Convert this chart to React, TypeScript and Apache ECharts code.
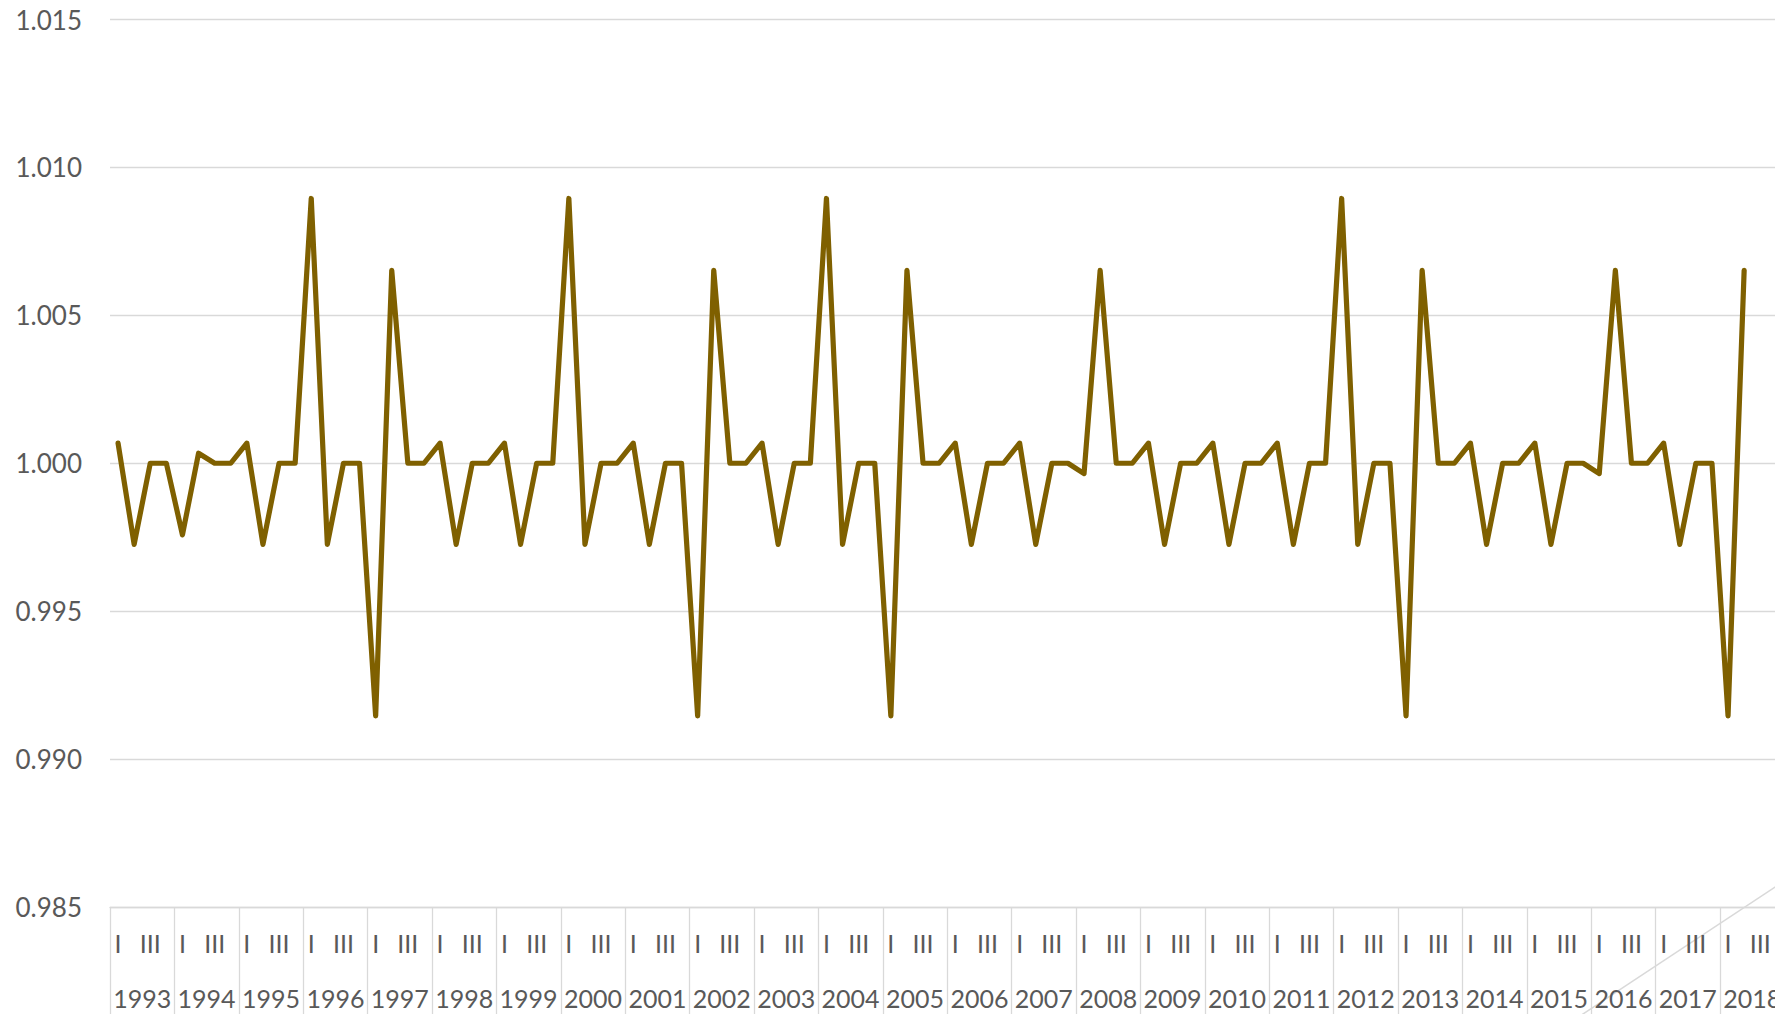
import React, { useEffect, useRef } from "react";
import * as echarts from "echarts";

const years: string[] = [
  "1993", "1994", "1995", "1996", "1997", "1998", "1999", "2000", "2001",
  "2002", "2003", "2004", "2005", "2006", "2007", "2008", "2009", "2010",
  "2011", "2012", "2013", "2014", "2015", "2016", "2017", "2018",
];

const quarterNames: string[] = ["I", "II", "III", "IV"];

// 1993 Q1 .. 2018 Q2
const values: number[] = [
  1.00068, 0.99726, 1.0, 1.0, // 1993
  0.99758, 1.00034, 1.0, 1.0, // 1994
  1.00068, 0.99726, 1.0, 1.0, // 1995
  1.00895, 0.99726, 1.0, 1.0, // 1996
  0.99146, 1.00652, 1.0, 1.0, // 1997
  1.00068, 0.99726, 1.0, 1.0, // 1998
  1.00068, 0.99726, 1.0, 1.0, // 1999
  1.00895, 0.99726, 1.0, 1.0, // 2000
  1.00068, 0.99726, 1.0, 1.0, // 2001
  0.99146, 1.00652, 1.0, 1.0, // 2002
  1.00068, 0.99726, 1.0, 1.0, // 2003
  1.00895, 0.99726, 1.0, 1.0, // 2004
  0.99146, 1.00652, 1.0, 1.0, // 2005
  1.00068, 0.99726, 1.0, 1.0, // 2006
  1.00068, 0.99726, 1.0, 1.0, // 2007
  0.99965, 1.00652, 1.0, 1.0, // 2008
  1.00068, 0.99726, 1.0, 1.0, // 2009
  1.00068, 0.99726, 1.0, 1.0, // 2010
  1.00068, 0.99726, 1.0, 1.0, // 2011
  1.00895, 0.99726, 1.0, 1.0, // 2012
  0.99146, 1.00652, 1.0, 1.0, // 2013
  1.00068, 0.99726, 1.0, 1.0, // 2014
  1.00068, 0.99726, 1.0, 1.0, // 2015
  0.99965, 1.00652, 1.0, 1.0, // 2016
  1.00068, 0.99726, 1.0, 1.0, // 2017
  0.99146, 1.00652, // 2018
];

const yMin = 0.985;
const yMax = 1.015;
const yStep = 0.005;

const FONT = "Lato, 'Open Sans', sans-serif";
const TEXT = "#595959";
const GRID = "#d9d9d9";

export default function App() {
  const ref = useRef<HTMLDivElement | null>(null);

  useEffect(() => {
    if (!ref.current) return;
    const chart = echarts.init(ref.current, undefined, { renderer: "svg" });

    const quarterCats: string[] = [];
    years.forEach(() => quarterNames.forEach((q) => quarterCats.push(q)));
    const seriesData = quarterCats.map((_, i) => (i < values.length ? values[i] : null));

    const option: any = {
      animation: false,
      backgroundColor: "#ffffff",
      grid: { left: 110, top: 19.5, width: 1674.4, height: 887.5, containLabel: false },
      xAxis: [
        {
          type: "category",
          data: quarterCats,
          boundaryGap: true,
          position: "bottom",
          axisLine: { show: true, lineStyle: { color: GRID, width: 1.3 } },
          axisTick: { show: false },
          axisLabel: {
            interval: 1,
            color: TEXT,
            fontFamily: FONT,
            fontSize: 25,
            lineHeight: 25,
            margin: 23,
          },
          splitLine: { show: false },
        },
        {
          type: "category",
          data: years,
          boundaryGap: true,
          position: "bottom",
          axisLine: { show: false },
          axisTick: {
            show: true,
            interval: 0,
            length: 140,
            lineStyle: { color: GRID, width: 1.3 },
          },
          axisLabel: {
            interval: 0,
            color: TEXT,
            fontFamily: FONT,
            fontSize: 25,
            lineHeight: 25,
            margin: 78,
          },
          splitLine: { show: false },
        },
      ],
      yAxis: {
        type: "value",
        min: yMin,
        max: yMax,
        interval: yStep,
        axisLine: { show: false },
        axisTick: { show: false },
        axisLabel: {
          color: TEXT,
          fontFamily: FONT,
          fontSize: 26,
          margin: 28,
          formatter: (v: number) => v.toFixed(3),
        },
        splitLine: { show: true, lineStyle: { color: GRID, width: 1.3 } },
      },
      series: [
        {
          type: "line",
          xAxisIndex: 0,
          data: seriesData,
          symbol: "none",
          connectNulls: false,
          lineStyle: { color: "#7f6000", width: 5.2, cap: "round", join: "round" },
        },
      ],
      graphic: [
        {
          type: "line",
          silent: true,
          shape: { x1: 1560, y1: 1029.2, x2: 1800, y2: 870.5 },
          style: { stroke: GRID, lineWidth: 1.5 },
        },
      ],
    };

    chart.setOption(option);
    return () => chart.dispose();
  }, []);

  return (
    <div
      style={{
        position: "fixed",
        left: 0,
        top: 0,
        width: "1775px",
        height: "1014px",
        overflow: "hidden",
        background: "#ffffff",
      }}
    >
      <div ref={ref} style={{ width: "1800px", height: "1060px" }} />
    </div>
  );
}
